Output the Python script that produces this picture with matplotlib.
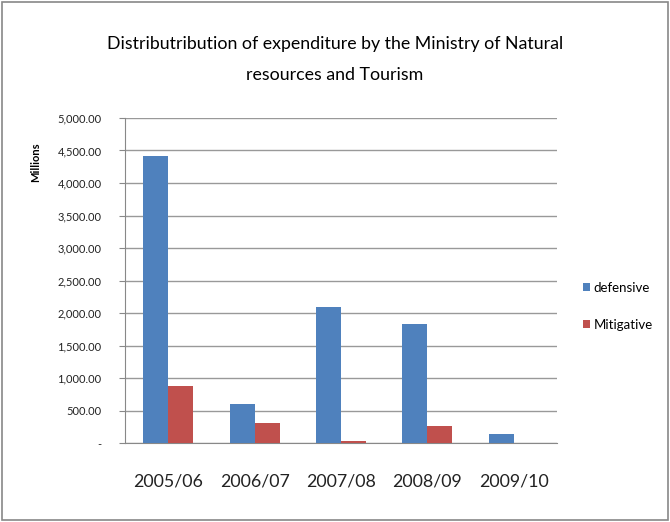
import numpy as np
import matplotlib
matplotlib.use("Agg")
import matplotlib.pyplot as plt
from matplotlib.patches import Rectangle
from matplotlib.ticker import FuncFormatter

years = ["2005/06", "2006/07", "2007/08", "2008/09", "2009/10"]
defensive = [4420, 595, 2090, 1840, 145]
mitigative = [880, 315, 30, 260, 0]

plt.rcParams['font.family'] = ['Lato', 'DejaVu Sans']

fig = plt.figure(figsize=(6.7, 5.22), dpi=100)
ax = fig.add_axes([0.187, 0.151, 0.644, 0.623])

x = np.arange(len(years))
w = 0.29
ax.bar(x - w/2, defensive, w, color='#4F81BD', label='defensive', zorder=3)
ax.bar(x + w/2, mitigative, w, color='#C0504D', label='Mitigative', zorder=3)

ax.set_xlim(-0.5, len(years) - 0.5)
ax.set_ylim(0, 5000)
ax.set_yticks(np.arange(0, 5001, 500))
ax.yaxis.set_major_formatter(FuncFormatter(lambda v, p: '-' if v == 0 else '{:,.2f}'.format(v)))
ax.set_xticks(x)
ax.set_xticklabels(years, fontsize=12.8, color='#222222')
ax.tick_params(axis='x', length=0, pad=22)
ax.tick_params(axis='y', labelsize=8, length=4, color='#888888', pad=13)
ax.grid(axis='y', color='#999999', linewidth=1, zorder=0)
for s in ['top', 'right']:
    ax.spines[s].set_visible(False)
ax.spines['left'].set_color('#888888')
ax.spines['bottom'].set_color('#888888')
for t in ax.get_yticklabels():
    t.set_color('#222222')

fig.text(0.053, 0.69, 'Millions', rotation=90, fontsize=8, fontweight='bold',
         ha='center', va='center')

fig.text(0.5, 0.915, 'Distributribution of expenditure by the Ministry of Natural',
         fontsize=12.8, ha='center', va='center', color='black')
fig.text(0.5, 0.857, 'resources and Tourism', fontsize=12.8, ha='center', va='center', color='black')

ax.legend(loc='center left', bbox_to_anchor=(1.06, 0.42), frameon=False, fontsize=9.5,
          borderaxespad=0, borderpad=0,
          handlelength=0.55, handleheight=0.55, handletextpad=0.3, labelspacing=1.9)

fig.patches.append(Rectangle((0.003, 0.003), 0.994, 0.994, transform=fig.transFigure,
                             fill=False, edgecolor='#888888', linewidth=1.2))

fig.savefig('out.png', dpi=100)
